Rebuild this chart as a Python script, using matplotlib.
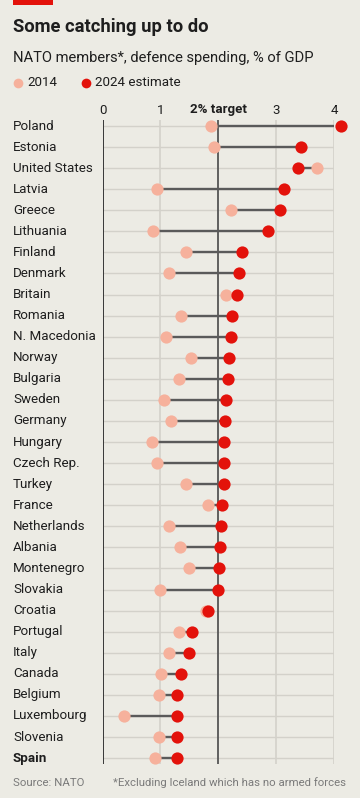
import matplotlib
matplotlib.use("Agg")
import matplotlib.pyplot as plt
from matplotlib.transforms import blended_transform_factory
from matplotlib.patches import Rectangle

countries = ["Poland", "Estonia", "United States", "Latvia", "Greece", "Lithuania",
             "Finland", "Denmark", "Britain", "Romania", "N. Macedonia", "Norway",
             "Bulgaria", "Sweden", "Germany", "Hungary", "Czech Rep.", "Turkey",
             "France", "Netherlands", "Albania", "Montenegro", "Slovakia", "Croatia",
             "Portugal", "Italy", "Canada", "Belgium", "Luxembourg", "Slovenia", "Spain"]
v2014 = [1.87, 1.93, 3.70, 0.94, 2.21, 0.88, 1.45, 1.15, 2.14, 1.35, 1.09, 1.53,
         1.32, 1.06, 1.19, 0.86, 0.94, 1.44, 1.82, 1.15, 1.34, 1.49, 0.99, 1.78,
         1.32, 1.14, 1.01, 0.97, 0.37, 0.97, 0.91]
v2024 = [4.11, 3.42, 3.37, 3.13, 3.07, 2.85, 2.41, 2.36, 2.32, 2.24, 2.21, 2.19,
         2.17, 2.13, 2.12, 2.10, 2.10, 2.09, 2.06, 2.05, 2.03, 2.01, 1.99, 1.82,
         1.55, 1.49, 1.36, 1.29, 1.29, 1.29, 1.28]
xticks = [0, 1, 2, 3, 4]
xticklabels = ["0", "1", "2% target", "3", "4"]

W, H = 360, 798
BG = "#ECEBE4"
RED = "#E3120B"
PINK = "#F6B19C"
LINE = "#5A5A5A"
GRID = "#D3D1CA"
TXT = "#1E1E1E"

plt.rcParams['font.family'] = ['Roboto', 'DejaVu Sans']

fig = plt.figure(figsize=(W / 100, H / 100), dpi=100, facecolor=BG)

def fy(p):
    return 1 - p / H

def fx(p):
    return p / W

left_px, right_px, top_px, bot_px = 102.5, 334.2, 120, 763.5
ax = fig.add_axes([fx(left_px), fy(bot_px), fx(right_px - left_px), (bot_px - top_px) / H])
ax.set_facecolor(BG)
ax.set_xlim(0, 4)
row0, step = 126, 21.07
ax.set_ylim((bot_px - row0) / step, (top_px - row0) / step)
for s in ax.spines.values():
    s.set_visible(False)
ax.set_xticks([])
ax.set_yticks([])

n = len(countries)
ys = list(range(n))
for y in ys:
    ax.plot([0, 4], [y, y], color=GRID, lw=1.0, zorder=1, solid_capstyle='butt')
for x in [1, 3, 4]:
    ax.axvline(x, color=GRID, lw=1.2, zorder=1)
ax.axvline(0, color="#2A2A2A", lw=1.3, zorder=2)
ax.axvline(2, color="#555555", lw=1.3, zorder=2)

for y, a, b in zip(ys, v2014, v2024):
    ax.plot([a, b], [y, y], color=LINE, lw=1.7, zorder=3, solid_capstyle='butt')
ax.plot(v2014, ys, 'o', color=PINK, ms=8.8, mew=0, zorder=4, clip_on=False)
ax.plot(v2024, ys, 'o', color=RED, ms=8.8, mew=0, zorder=5, clip_on=False)

tr = blended_transform_factory(ax.transData, fig.transFigure)
for x, lab in zip(xticks, xticklabels):
    ax.text(x, fy(110), lab, transform=tr, ha='center', va='center', fontsize=9.5,
            color=TXT, fontweight='bold' if '%' in lab else 'normal')

for y, c in zip(ys, countries):
    fig.text(fx(13), fy(row0 + step * y), c, ha='left', va='center', fontsize=9.6,
             color=TXT, fontweight='bold' if c == "Spain" else 'normal')

fig.patches.append(Rectangle((fx(13), fy(5.3)), fx(40), 5.3 / H, transform=fig.transFigure,
                             facecolor=RED, edgecolor='none'))
fig.text(fx(13), fy(27), "Some catching up to do", ha='left', va='center',
         fontsize=13.2, fontweight='bold', color=TXT)
fig.text(fx(13), fy(58), "NATO members*, defence spending, % of GDP", ha='left',
         va='center', fontsize=10.6, color=TXT)

fig.add_artist(plt.Line2D([fx(18)], [fy(83)], marker='o', ms=7, color=PINK, mew=0,
                          transform=fig.transFigure))
fig.text(fx(27), fy(83), "2014", ha='left', va='center', fontsize=9.6, color=TXT)
fig.add_artist(plt.Line2D([fx(86)], [fy(83)], marker='o', ms=7, color=RED, mew=0,
                          transform=fig.transFigure))
fig.text(fx(95), fy(83), "2024 estimate", ha='left', va='center', fontsize=9.6, color=TXT)

fig.text(fx(13), fy(783), "Source: NATO", ha='left', va='center', fontsize=8.2, color="#7A7A7A")
fig.text(fx(346), fy(783), "*Excluding Iceland which has no armed forces", ha='right',
         va='center', fontsize=8.2, color="#7A7A7A")

fig.savefig("out.png", dpi=100, facecolor=BG)
